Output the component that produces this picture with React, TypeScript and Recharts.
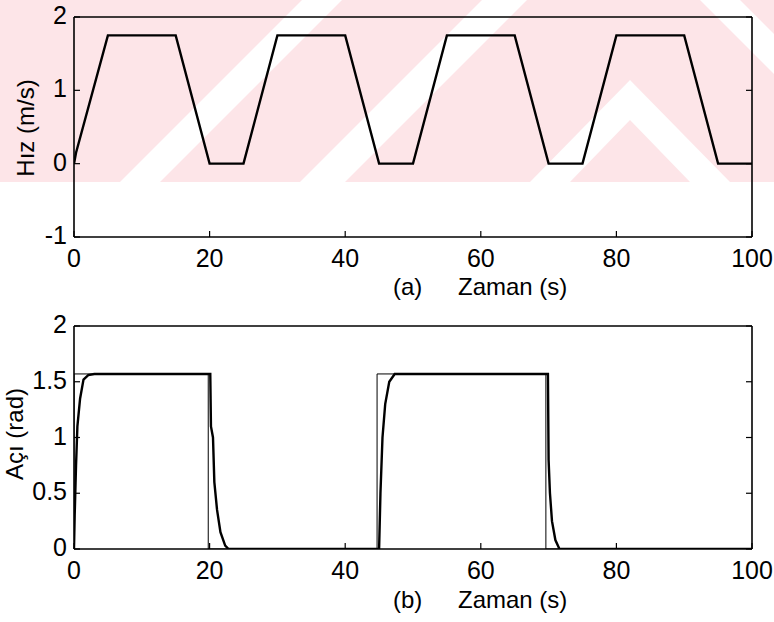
import { LineChart, Line, XAxis, YAxis } from "recharts";

// (a) Hız (m/s)
const xTicks = [0, 20, 40, 60, 80, 100];
const hizTicks = [-1, 0, 1, 2];
const hizTime = [0, 0.3, 5, 15, 20, 25, 30, 40, 45, 50, 55, 65, 70, 75, 80, 90, 95, 100];
const hizValue = [0, 0.15, 1.75, 1.75, 0, 0, 1.75, 1.75, 0, 0, 1.75, 1.75, 0, 0, 1.75, 1.75, 0, 0];

// (b) Açı (rad): thin reference + thick response
const aciTicks = [0, 0.5, 1, 1.5, 2];
const refTime = [0, 0, 19.8, 19.8, 44.7, 44.7, 69.6, 69.6, 100];
const refValue = [0, 1.57, 1.57, 0, 0, 1.57, 1.57, 0, 0];
const aciTime = [
  0, 0.1, 0.3, 0.5, 0.9, 1.4, 2.1, 3, 20.1, 20.2, 20.5, 20.7, 21.1, 21.6, 22.3, 22.8,
  45, 45.2, 45.5, 45.9, 46.5, 47.3, 69.9, 70, 70.2, 70.5, 71, 71.6, 100,
];
const aciValue = [
  0, 0.3, 0.75, 1.1, 1.35, 1.52, 1.56, 1.57, 1.57, 1.1, 1.0, 0.6, 0.35, 0.15, 0.03, 0,
  0, 0.5, 1.0, 1.3, 1.5, 1.57, 1.57, 0.8, 0.5, 0.25, 0.08, 0, 0,
];

const toRows = (xs: number[], ys: number[]) => xs.map((t, i) => ({ t, v: ys[i] }));
const hizRows = toRows(hizTime, hizValue);
const refRows = toRows(refTime, refValue);
const aciRows = toRows(aciTime, aciValue);

const FONT = "'Liberation Sans', Arial, sans-serif";
const TICK = 6;

// eslint-disable-next-line @typescript-eslint/no-explicit-any
function BottomTick({ x, y, payload }: any) {
  return (
    <g>
      <line x1={x} y1={y} x2={x} y2={y - TICK} stroke="#000" strokeWidth={1.2} />
      <text x={x} y={y + 30} textAnchor="middle" fontSize={25} fontFamily={FONT} fill="#000">
        {payload.value}
      </text>
    </g>
  );
}

// eslint-disable-next-line @typescript-eslint/no-explicit-any
function TopTick({ x, y }: any) {
  return <line x1={x} y1={y} x2={x} y2={y + TICK} stroke="#000" strokeWidth={1.2} />;
}

// eslint-disable-next-line @typescript-eslint/no-explicit-any
function LeftTick({ x, y, payload }: any) {
  return (
    <g>
      <line x1={x} y1={y} x2={x + TICK} y2={y} stroke="#000" strokeWidth={1.2} />
      <text x={x - 7} y={y + 7} textAnchor="end" fontSize={25} fontFamily={FONT} fill="#000">
        {payload.value}
      </text>
    </g>
  );
}

// eslint-disable-next-line @typescript-eslint/no-explicit-any
function RightTick({ x, y }: any) {
  return <line x1={x} y1={y} x2={x - TICK} y2={y} stroke="#000" strokeWidth={1.2} />;
}

function Panel({
  top,
  height,
  margin,
  domain,
  yTicks,
  children,
}: {
  top: number;
  height: number;
  margin: { top: number; right: number; bottom: number; left: number };
  domain: [number, number];
  yTicks: number[];
  children: React.ReactNode;
}) {
  const axisLine = { stroke: "#000", strokeWidth: 1.6 };
  return (
    <div style={{ position: "absolute", left: 0, top }}>
      <LineChart width={774} height={height} margin={margin}>
        <XAxis
          dataKey="t"
          type="number"
          domain={[0, 100]}
          ticks={xTicks}
          interval={0}
          allowDataOverflow
          height={1}
          tickSize={0}
          tickMargin={0}
          tickLine={false}
          axisLine={axisLine}
          tick={<BottomTick />}
        />
        <XAxis
          xAxisId="top"
          orientation="top"
          type="number"
          domain={[0, 100]}
          ticks={xTicks}
          interval={0}
          allowDataOverflow
          height={1}
          tickSize={0}
          tickMargin={0}
          tickLine={false}
          axisLine={axisLine}
          tick={<TopTick />}
        />
        <YAxis
          type="number"
          domain={domain}
          ticks={yTicks}
          interval={0}
          allowDataOverflow
          width={1}
          tickSize={0}
          tickMargin={0}
          tickLine={false}
          axisLine={axisLine}
          tick={<LeftTick />}
        />
        <YAxis
          yAxisId="right"
          orientation="right"
          type="number"
          domain={domain}
          ticks={yTicks}
          interval={0}
          allowDataOverflow
          width={1}
          tickSize={0}
          tickMargin={0}
          tickLine={false}
          axisLine={axisLine}
          tick={<RightTick />}
        />
        {children}
      </LineChart>
    </div>
  );
}

function Watermark() {
  const pink = "#fde5e8";
  return (
    <svg width={774} height={182} style={{ position: "absolute", left: 0, top: 0 }}>
      <rect x={0} y={0} width={774} height={182} fill={pink} />
      <polygon points="120,182 160,182 342,0 302,0" fill="#fff" />
      <polygon points="300,182 345,182 527,0 482,0" fill="#fff" />
      <polygon points="530,182 570,182 630,120 690,182 730,182 630,80" fill="#fff" />
      <polygon points="700,0 740,0 774,34 774,74" fill="#fff" />
    </svg>
  );
}

const labelStyle: React.CSSProperties = {
  position: "absolute",
  fontFamily: FONT,
  fontSize: 24,
  lineHeight: "26px",
  color: "#000",
  whiteSpace: "nowrap",
};

function YLabel({ text, cx, cy }: { text: string; cx: number; cy: number }) {
  return (
    <div
      style={{
        ...labelStyle,
        left: cx,
        top: cy,
        transform: "translate(-50%, -50%) rotate(-90deg)",
      }}
    >
      {text}
    </div>
  );
}

export default function App() {
  return (
    <div
      style={{
        position: "absolute",
        left: 0,
        top: 0,
        width: 774,
        height: 622,
        background: "#fff",
        overflow: "hidden",
      }}
    >
      <Watermark />

      <Panel
        top={0}
        height={300}
        margin={{ top: 16, right: 21, bottom: 62, left: 73 }}
        domain={[-1, 2]}
        yTicks={hizTicks}
      >
        <Line
          data={hizRows}
          dataKey="v"
          type="linear"
          stroke="#000"
          strokeWidth={2.4}
          dot={false}
          isAnimationActive={false}
        />
      </Panel>

      <Panel
        top={300}
        height={322}
        margin={{ top: 25, right: 21, bottom: 72, left: 73 }}
        domain={[0, 2]}
        yTicks={aciTicks}
      >
        <Line
          data={refRows}
          dataKey="v"
          type="linear"
          stroke="#000"
          strokeWidth={1}
          dot={false}
          isAnimationActive={false}
        />
        <Line
          data={aciRows}
          dataKey="v"
          type="linear"
          stroke="#000"
          strokeWidth={2.4}
          dot={false}
          isAnimationActive={false}
        />
      </Panel>

      <YLabel text="Hız (m/s)" cx={26} cy={128} />
      <YLabel text="Açı (rad)" cx={15} cy={434} />

      <div style={{ ...labelStyle, left: 393, top: 274 }}>(a)</div>
      <div style={{ ...labelStyle, left: 458, top: 274 }}>Zaman (s)</div>
      <div style={{ ...labelStyle, left: 393, top: 587 }}>(b)</div>
      <div style={{ ...labelStyle, left: 458, top: 587 }}>Zaman (s)</div>
    </div>
  );
}
